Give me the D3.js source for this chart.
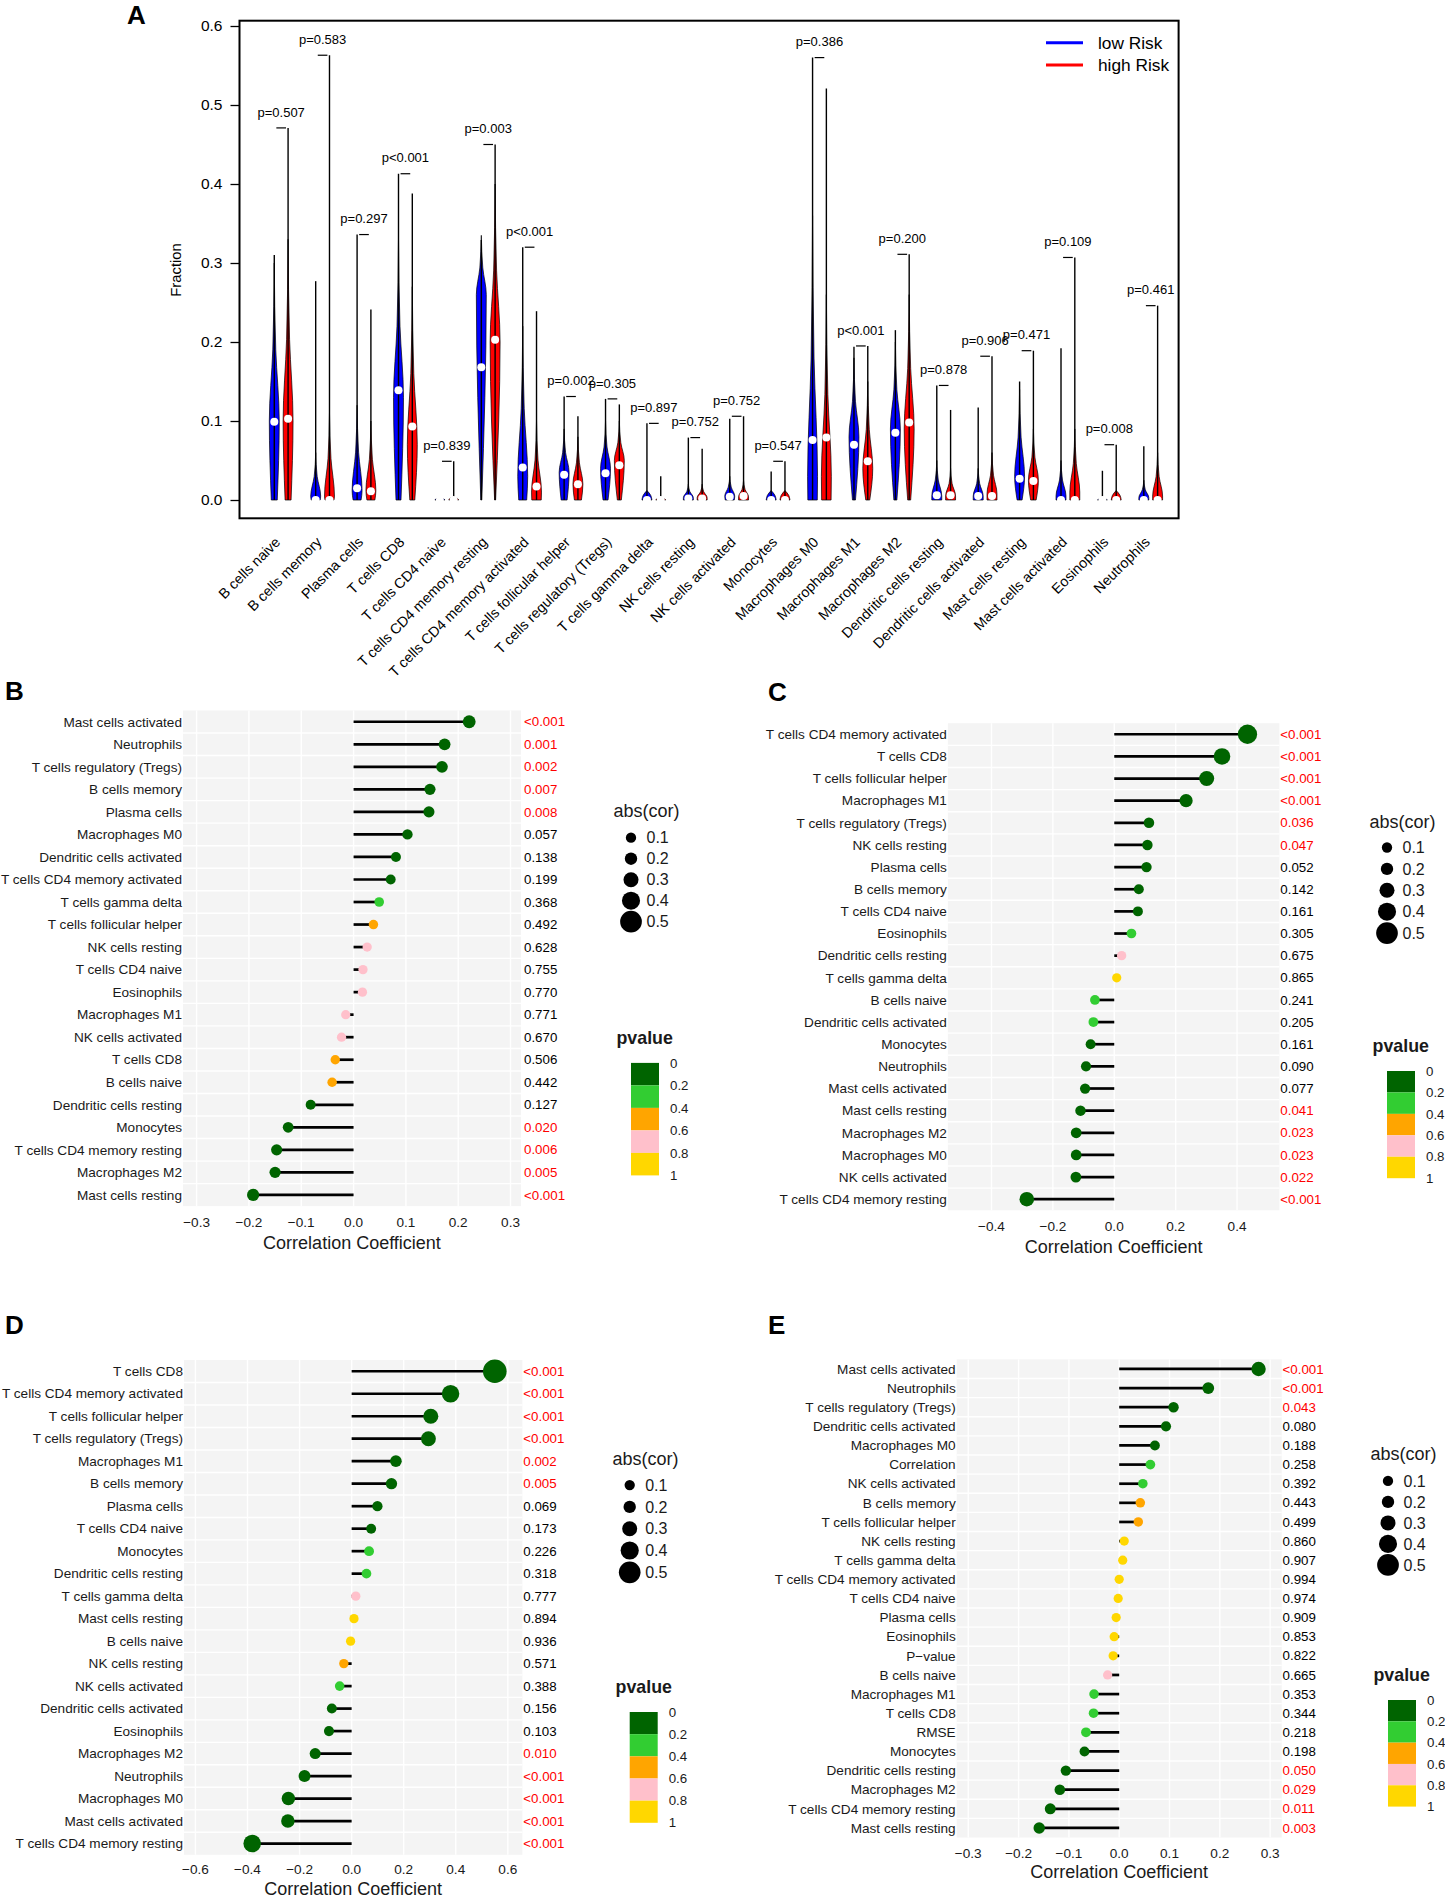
<!DOCTYPE html>
<html>
<head>
<meta charset="utf-8">
<script src="https://cdn.jsdelivr.net/npm/d3@7"></script>
<style>
  body { margin: 0; background: #fff; }
  svg text { font-family: "Liberation Sans", Arial, sans-serif; }
</style>
</head>
<body>
<script>
// ---------- panel A: violin data ----------
var cellTypes = ["B cells naive", "B cells memory", "Plasma cells", "T cells CD8", "T cells CD4 naive",
  "T cells CD4 memory resting", "T cells CD4 memory activated", "T cells follicular helper",
  "T cells regulatory (Tregs)", "T cells gamma delta", "NK cells resting", "NK cells activated",
  "Monocytes", "Macrophages M0", "Macrophages M1", "Macrophages M2", "Dendritic cells resting",
  "Dendritic cells activated", "Mast cells resting", "Mast cells activated", "Eosinophils", "Neutrophils"];
var lowMax  = [0.310, 0.277, 0.336, 0.413, 0.003, 0.329, 0.320, 0.131, 0.128, 0.097, 0.079, 0.103, 0.036, 0.560, 0.194, 0.215, 0.145, 0.117, 0.150, 0.192, 0.037, 0.068];
var highMax = [0.471, 0.563, 0.241, 0.388, 0.049, 0.450, 0.239, 0.106, 0.121, 0.030, 0.065, 0.106, 0.049, 0.521, 0.195, 0.311, 0.114, 0.182, 0.189, 0.307, 0.070, 0.246];
var lowMedian  = [0.099, 0.000, 0.015, 0.139, 0.000, 0.168, 0.041, 0.032, 0.034, 0.000, 0.002, 0.004, 0.000, 0.076, 0.070, 0.085, 0.006, 0.005, 0.027, 0.000, 0.000, 0.000];
var highMedian = [0.103, 0.000, 0.011, 0.093, 0.000, 0.203, 0.017, 0.020, 0.044, 0.000, 0.002, 0.005, 0.000, 0.079, 0.049, 0.098, 0.006, 0.005, 0.024, 0.000, 0.000, 0.000];
var pLabels = ["p=0.507", "p=0.583", "p=0.297", "p<0.001", "p=0.839", "p=0.003", "p<0.001", "p=0.002",
  "p=0.305", "p=0.897", "p=0.752", "p=0.752", "p=0.547", "p=0.386", "p<0.001", "p=0.200", "p=0.878",
  "p=0.906", "p=0.471", "p=0.109", "p=0.008", "p=0.461"];
// visible body of each violin: top of the body, fraction at the widest point, relative width at 0
var lowTop   = [0.30, 0.06, 0.12, 0.33, 0.003, 0.335, 0.22, 0.09, 0.10, 0.012, 0.02, 0.03, 0.012, 0.36, 0.18, 0.20, 0.05, 0.04, 0.14, 0.05, 0.002, 0.025];
var lowPeak  = [0.10, 0.005, 0.012, 0.13, 0, 0.26, 0.03, 0.035, 0.04, 0, 0.003, 0.005, 0, 0.03, 0.08, 0.09, 0.005, 0.005, 0.03, 0.005, 0, 0.003];
var lowBase  = [0.6, 0.9, 0.8, 0.5, 0.3, 0.1, 0.8, 0.6, 0.5, 1, 1, 0.9, 1, 0.95, 0.3, 0.3, 1, 1, 0.5, 1, 0.3, 1];
var highTop  = [0.33, 0.11, 0.10, 0.27, 0.004, 0.40, 0.10, 0.08, 0.10, 0.003, 0.02, 0.025, 0.012, 0.26, 0.15, 0.26, 0.04, 0.06, 0.09, 0.09, 0.012, 0.06];
var highPeak = [0.10, 0.005, 0.012, 0.07, 0, 0.20, 0.01, 0.02, 0.05, 0, 0.003, 0.004, 0, 0.03, 0.04, 0.09, 0.005, 0.008, 0.025, 0.01, 0, 0.005];
var highBase = [0.6, 0.9, 0.8, 0.5, 0.3, 0.1, 0.95, 0.7, 0.4, 0.4, 1, 1, 1, 0.95, 0.4, 0.3, 1, 1, 0.55, 1, 1, 1];
var yTicksA = [0, 0.1, 0.2, 0.3, 0.4, 0.5, 0.6];
var riskGroups = ["low  Risk", "high Risk"];
var riskColors = ["#0000FF", "#FF0000"];

// ---------- panels B-E: lollipop data ----------
var rowsB = ["Mast cells activated", "Neutrophils", "T cells regulatory (Tregs)", "B cells memory", "Plasma cells",
  "Macrophages M0", "Dendritic cells activated", "T cells CD4 memory activated", "T cells gamma delta",
  "T cells follicular helper", "NK cells resting", "T cells CD4 naive", "Eosinophils", "Macrophages M1",
  "NK cells activated", "T cells CD8", "B cells naive", "Dendritic cells resting", "Monocytes",
  "T cells CD4 memory resting", "Macrophages M2", "Mast cells resting"];
var corB = [0.221, 0.174, 0.169, 0.146, 0.144, 0.103, 0.081, 0.071, 0.049, 0.038, 0.026, 0.018, 0.017,
  -0.015, -0.023, -0.035, -0.041, -0.082, -0.125, -0.147, -0.150, -0.192];
var pB = ["<0.001", "0.001", "0.002", "0.007", "0.008", "0.057", "0.138", "0.199", "0.368", "0.492", "0.628",
  "0.755", "0.770", "0.771", "0.670", "0.506", "0.442", "0.127", "0.020", "0.006", "0.005", "<0.001"];

var rowsC = ["T cells CD4 memory activated", "T cells CD8", "T cells follicular helper", "Macrophages M1",
  "T cells regulatory (Tregs)", "NK cells resting", "Plasma cells", "B cells memory", "T cells CD4 naive",
  "Eosinophils", "Dendritic cells resting", "T cells gamma delta", "B cells naive", "Dendritic cells activated",
  "Monocytes", "Neutrophils", "Mast cells activated", "Mast cells resting", "Macrophages M2", "Macrophages M0",
  "NK cells activated", "T cells CD4 memory resting"];
var corC = [0.434, 0.351, 0.301, 0.234, 0.113, 0.108, 0.105, 0.080, 0.077, 0.056, 0.024, 0.008,
  -0.063, -0.068, -0.077, -0.092, -0.095, -0.110, -0.124, -0.124, -0.125, -0.285];
var pC = ["<0.001", "<0.001", "<0.001", "<0.001", "0.036", "0.047", "0.052", "0.142", "0.161", "0.305", "0.675",
  "0.865", "0.241", "0.205", "0.161", "0.090", "0.077", "0.041", "0.023", "0.023", "0.022", "<0.001"];

var rowsD = ["T cells CD8", "T cells CD4 memory activated", "T cells follicular helper", "T cells regulatory (Tregs)",
  "Macrophages M1", "B cells memory", "Plasma cells", "T cells CD4 naive", "Monocytes", "Dendritic cells resting",
  "T cells gamma delta", "Mast cells resting", "B cells naive", "NK cells resting", "NK cells activated",
  "Dendritic cells activated", "Eosinophils", "Macrophages M2", "Neutrophils", "Macrophages M0",
  "Mast cells activated", "T cells CD4 memory resting"];
var corD = [0.550, 0.380, 0.304, 0.295, 0.170, 0.153, 0.099, 0.075, 0.067, 0.057, 0.016, 0.009,
  -0.004, -0.030, -0.046, -0.076, -0.087, -0.140, -0.181, -0.243, -0.245, -0.382];
var pD = ["<0.001", "<0.001", "<0.001", "<0.001", "0.002", "0.005", "0.069", "0.173", "0.226", "0.318", "0.777",
  "0.894", "0.936", "0.571", "0.388", "0.156", "0.103", "0.010", "<0.001", "<0.001", "<0.001", "<0.001"];

var rowsE = ["Mast cells activated", "Neutrophils", "T cells regulatory (Tregs)", "Dendritic cells activated",
  "Macrophages M0", "Correlation", "NK cells activated", "B cells memory", "T cells follicular helper",
  "NK cells resting", "T cells gamma delta", "T cells CD4 memory activated", "T cells CD4 naive", "Plasma cells",
  "Eosinophils", "P\u2212value", "B cells naive", "Macrophages M1", "T cells CD8", "RMSE", "Monocytes",
  "Dendritic cells resting", "Macrophages M2", "T cells CD4 memory resting", "Mast cells resting"];
var corE = [0.277, 0.177, 0.108, 0.093, 0.071, 0.062, 0.047, 0.042, 0.038, 0.010, 0.007, 0.000, -0.002,
  -0.006, -0.010, -0.012, -0.023, -0.050, -0.051, -0.066, -0.069, -0.106, -0.118, -0.137, -0.159];
var pE = ["<0.001", "<0.001", "0.043", "0.080", "0.188", "0.258", "0.392", "0.443", "0.499", "0.860", "0.907",
  "0.994", "0.974", "0.909", "0.853", "0.822", "0.665", "0.353", "0.344", "0.218", "0.198", "0.050", "0.029",
  "0.011", "0.003"];

var sizeBreaks = [0.1, 0.2, 0.3, 0.4, 0.5];
var pBreaks = [0, 0.2, 0.4, 0.6, 0.8, 1];
var pColors = ["#006400", "#32CD32", "#FFA500", "#FFC0CB", "#FFD700"];

// ---------- setup ----------
var svg = d3.select("body").append("svg")
  .attr("width", 1445)
  .attr("height", 1899);

var txt = "#1a1a1a";
var sizeScale = d3.scalePow().exponent(1.5).domain([0, 0.5]).range([4.6, 10.85]);
var pColor = d3.scaleThreshold().domain(pBreaks.slice(1, -1)).range(pColors);
function pNum(s) { return s.charAt(0) === "<" ? 0 : +s; }

// panel letters
[["A", 127, 24], ["B", 5, 700], ["C", 768, 701], ["D", 5, 1334], ["E", 768, 1334]].forEach(function(l) {
  svg.append("text").attr("x", l[1]).attr("y", l[2])
    .attr("font-size", 26).attr("font-weight", "bold").text(l[0]);
});

// ---------- panel A ----------
var xA = d3.scaleLinear().domain([-2.52, 65.52]).range([239.5, 1178.6]);
var yA = d3.scaleLinear().domain([0, 0.6]).range([500, 26]);
var halfW = xA(0.36) - xA(0);
var gA = svg.append("g");

function violinPath(cx, top, peak, base) {
  var pts = peak > 0
    ? [[0, base], [peak, 1], [peak + (top - peak) * 0.45, 0.3], [top, 0]]
    : [[0, 1], [top * 0.5, 0.75], [top, 0]];
  return d3.area()
    .y(function(d) { return yA(d[0]); })
    .x0(function(d) { return cx - halfW * d[1]; })
    .x1(function(d) { return cx + halfW * d[1]; })
    .curve(d3.curveMonotoneY)(pts);
}

cellTypes.forEach(function(name, i) {
  var groups = [
    {x: 3 * i, max: lowMax[i], med: lowMedian[i], top: lowTop[i], peak: lowPeak[i], base: lowBase[i], col: riskColors[0]},
    {x: 3 * i + 1, max: highMax[i], med: highMedian[i], top: highTop[i], peak: highPeak[i], base: highBase[i], col: riskColors[1]}
  ];
  groups.forEach(function(g) {
    var cx = xA(g.x);
    gA.append("path").attr("d", violinPath(cx, g.top, g.peak, g.base))
      .attr("fill", g.col).attr("stroke", "#000").attr("stroke-width", 0.7);
    gA.append("line").attr("x1", cx).attr("x2", cx).attr("y1", yA(0)).attr("y2", yA(g.max))
      .attr("stroke", "#000").attr("stroke-width", 1.4);
    gA.append("circle").attr("cx", cx).attr("cy", yA(g.med)).attr("r", 4).attr("fill", "#fff");
  });
  var mx = Math.max(lowMax[i], highMax[i]);
  gA.append("line").attr("x1", xA(3 * i + 0.15)).attr("x2", xA(3 * i + 0.85))
    .attr("y1", yA(mx)).attr("y2", yA(mx)).attr("stroke", "#000").attr("stroke-width", 1.2);
  gA.append("text").attr("x", xA(3 * i + 0.5)).attr("y", yA(mx + 0.02)).attr("dy", "0.35em")
    .attr("text-anchor", "middle").attr("font-size", 13).text(pLabels[i]);
  gA.append("text")
    .attr("transform", "translate(" + xA(3 * i + 0.5) + ",543) rotate(-45)")
    .attr("text-anchor", "end").attr("font-size", 14.3).text(name);
});

gA.append("rect").attr("x", 239.5).attr("y", 20.7).attr("width", 1178.6 - 239.5).attr("height", 518.3 - 20.7)
  .attr("fill", "none").attr("stroke", "#000").attr("stroke-width", 2);

gA.append("g").attr("transform", "translate(239.5,0)")
  .call(d3.axisLeft(yA).tickValues(yTicksA).tickFormat(d3.format(".1f")).tickSize(9).tickPadding(8))
  .call(function(g) { g.select(".domain").remove(); })
  .call(function(g) {
    g.selectAll("text").attr("font-size", 15.5).attr("font-family", "Liberation Sans, Arial, sans-serif").attr("fill", "#000");
    g.selectAll("line").attr("stroke-width", 1.3);
  });

gA.append("text").attr("transform", "translate(175.7,270) rotate(-90)")
  .attr("text-anchor", "middle").attr("dy", "0.35em").attr("font-size", 14.8).text("Fraction");

riskGroups.forEach(function(r, i) {
  var ly = 42.7 + i * 22.3;
  gA.append("line").attr("x1", 1046).attr("x2", 1083).attr("y1", ly).attr("y2", ly)
    .attr("stroke", riskColors[i]).attr("stroke-width", 3);
  gA.append("text").attr("x", 1098).attr("y", ly).attr("dy", "0.35em")
    .attr("font-size", 17.3).text(r);
});

// ---------- panels B-E ----------
function drawLollipop(rows, cor, p, L) {
  var g = svg.append("g");
  var yEnd = L.top + L.step * rows.length;
  var x = d3.scaleLinear().domain(L.xlim).range([L.x0, L.x1]);
  var y = d3.scaleBand().domain(rows).range([L.top, yEnd]);
  var yc = function(d) { return y(d) + y.bandwidth() / 2; };

  g.append("rect").attr("x", L.x0).attr("y", L.top).attr("width", L.x1 - L.x0).attr("height", yEnd - L.top)
    .attr("fill", "#F4F4F4");
  g.selectAll(".vgrid").data(L.ticks).join("line").attr("class", "vgrid")
    .attr("x1", function(d) { return x(d); }).attr("x2", function(d) { return x(d); })
    .attr("y1", L.top).attr("y2", yEnd).attr("stroke", "#fff").attr("stroke-width", 1.4);
  g.selectAll(".hgrid").data(rows.slice(1)).join("line").attr("class", "hgrid")
    .attr("x1", L.x0).attr("x2", L.x1)
    .attr("y1", function(d) { return y(d); }).attr("y2", function(d) { return y(d); })
    .attr("stroke", "#fff").attr("stroke-width", 1.4);

  g.selectAll(".seg").data(rows).join("line").attr("class", "seg")
    .attr("x1", x(0)).attr("x2", function(d, i) { return x(cor[i]); })
    .attr("y1", yc).attr("y2", yc)
    .attr("stroke", "#000").attr("stroke-width", 2.7);
  g.selectAll(".dot").data(rows).join("circle").attr("class", "dot")
    .attr("cx", function(d, i) { return x(cor[i]); }).attr("cy", yc)
    .attr("r", function(d, i) { return sizeScale(Math.abs(cor[i])); })
    .attr("fill", function(d, i) { return pColor(pNum(p[i])); });

  g.selectAll(".rowlab").data(rows).join("text").attr("class", "rowlab")
    .attr("x", L.x0 - 1).attr("y", yc).attr("dy", "0.35em")
    .attr("text-anchor", "end").attr("font-size", 13.6).attr("fill", txt).text(function(d) { return d; });
  g.selectAll(".plab").data(rows).join("text").attr("class", "plab")
    .attr("x", L.px).attr("y", yc).attr("dy", "0.35em").attr("font-size", 13.3)
    .attr("fill", function(d, i) { return pNum(p[i]) <= 0.05 ? "#FF0000" : "#000"; })
    .text(function(d, i) { return p[i]; });

  g.selectAll(".tick").data(L.ticks).join("text").attr("class", "tick")
    .attr("x", function(d) { return x(d); }).attr("y", L.tickY).attr("dy", "0.35em")
    .attr("text-anchor", "middle").attr("font-size", 13.6).attr("fill", txt).text(d3.format(".1f"));
  g.append("text").attr("x", (L.x0 + L.x1) / 2).attr("y", L.titleY).attr("dy", "0.35em")
    .attr("text-anchor", "middle").attr("font-size", 18).attr("fill", txt).text("Correlation Coefficient");

  // size legend
  g.append("text").attr("x", L.legX).attr("y", L.sizeTitleY).attr("dy", "0.35em")
    .attr("font-size", 18).attr("fill", txt).text("abs(cor)");
  sizeBreaks.forEach(function(b, i) {
    var ly = L.sizeY0 + i * L.sizeStep;
    g.append("circle").attr("cx", L.dotX).attr("cy", ly).attr("r", sizeScale(b)).attr("fill", "#000");
    g.append("text").attr("x", L.dotX + 15.5).attr("y", ly).attr("dy", "0.35em")
      .attr("font-size", 16).attr("fill", txt).text(b);
  });

  // p-value legend
  g.append("text").attr("x", L.legX + 3).attr("y", L.pTitleY).attr("dy", "0.35em")
    .attr("font-size", 17.8).attr("font-weight", "bold").attr("fill", txt).text("pvalue");
  var bar = d3.scaleLinear().domain([0, 1]).range([L.barY0, L.barY1]);
  pColors.forEach(function(c, i) {
    g.append("rect").attr("x", L.dotX).attr("width", 28)
      .attr("y", bar(pBreaks[i])).attr("height", bar(pBreaks[i + 1]) - bar(pBreaks[i]))
      .attr("fill", c);
  });
  pBreaks.forEach(function(b) {
    g.append("text").attr("x", L.dotX + 39).attr("y", bar(b)).attr("dy", "0.35em")
      .attr("font-size", 13.3).attr("fill", txt).text(b);
  });
}

drawLollipop(rowsB, corB, pB, {
  xlim: [-0.326, 0.32], x0: 183, x1: 521, top: 710.5, step: 22.53, px: 524,
  ticks: [-0.3, -0.2, -0.1, 0, 0.1, 0.2, 0.3], tickY: 1221.8, titleY: 1242.5,
  legX: 613.5, sizeTitleY: 811, sizeY0: 837.7, sizeStep: 21, dotX: 631,
  pTitleY: 1038, barY0: 1062.9, barY1: 1175.4
});
drawLollipop(rowsC, corC, pC, {
  xlim: [-0.542, 0.538], x0: 947.9, x1: 1279.4, top: 723.2, step: 22.14, px: 1280.3,
  ticks: [-0.4, -0.2, 0, 0.2, 0.4], tickY: 1226, titleY: 1246.5,
  legX: 1369.6, sizeTitleY: 821.8, sizeY0: 847.5, sizeStep: 21.4, dotX: 1387,
  pTitleY: 1046, barY0: 1071, barY1: 1178.2
});
drawLollipop(rowsD, corD, pD, {
  xlim: [-0.644, 0.656], x0: 184, x1: 522.4, top: 1360, step: 22.49, px: 523.3,
  ticks: [-0.6, -0.4, -0.2, 0, 0.2, 0.4, 0.6], tickY: 1869.7, titleY: 1889,
  legX: 612.6, sizeTitleY: 1459.1, sizeY0: 1485.1, sizeStep: 21.8, dotX: 629.7,
  pTitleY: 1686.8, barY0: 1712, barY1: 1822.8
});
drawLollipop(rowsE, corE, pE, {
  xlim: [-0.323, 0.323], x0: 956.7, x1: 1281.7, top: 1359.4, step: 19.125, px: 1282.6,
  ticks: [-0.3, -0.2, -0.1, 0, 0.1, 0.2, 0.3], tickY: 1852.8, titleY: 1871.6,
  legX: 1370.5, sizeTitleY: 1453.9, sizeY0: 1480.9, sizeStep: 21, dotX: 1388,
  pTitleY: 1675.1, barY0: 1700, barY1: 1806.6
});
</script>
</body>
</html>
